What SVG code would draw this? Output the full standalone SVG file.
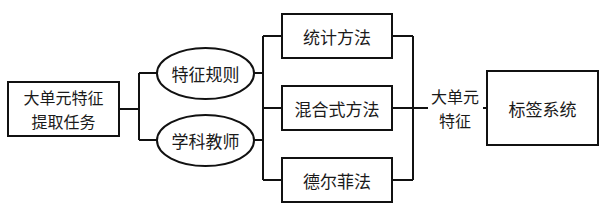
<svg xmlns="http://www.w3.org/2000/svg" width="607" height="219" viewBox="0 0 607 219">
<style>
.box{fill:#fff;stroke:#111;stroke-width:2}
.ln{fill:none;stroke:#111;stroke-width:2}
text{font-family:"Noto Sans CJK SC","Liberation Serif",sans-serif;font-size:17px;fill:#1a1a1a;text-anchor:middle;dominant-baseline:central}
text.two{font-size:16px}
</style>
<rect width="607" height="219" fill="#fff"/>
<g id="connectors">
<path class="ln" d="M119,109H139M139,73V140M139,73H157M139,140H157"/>
<path class="ln" d="M254,73H263M254,140H263M263,36V180M263,36H282M263,108H282M263,180H282"/>
<path class="ln" d="M392,36H413M392,180H413M413,36V180M392,108H428M483,108H487"/>
</g>
<g id="task"><rect class="box" x="8" y="82" width="111" height="54"/><text class="two" x="63.5" y="97">大单元特征</text><text class="two" x="63.5" y="121">提取任务</text></g>
<g id="rules"><ellipse class="box" cx="205.5" cy="73.5" rx="48.5" ry="25.5"/><text x="205.5" y="73.5">特征规则</text></g>
<g id="teacher"><ellipse class="box" cx="205.5" cy="140.5" rx="48.5" ry="25.5"/><text x="205.5" y="140.5">学科教师</text></g>
<g id="stat"><rect class="box" x="282" y="14" width="110" height="44"/><text x="337" y="36">统计方法</text></g>
<g id="mixed"><rect class="box" x="282" y="86" width="110" height="44"/><text x="337" y="108">混合式方法</text></g>
<g id="delphi"><rect class="box" x="282" y="158" width="110" height="44"/><text x="337" y="180">德尔菲法</text></g>
<g id="label"><text class="two" x="455" y="96">大单元</text><text class="two" x="455" y="120">特征</text></g>
<g id="tagsys"><rect class="box" x="487" y="71" width="111" height="74"/><text x="542.5" y="108">标签系统</text></g>
</svg>
